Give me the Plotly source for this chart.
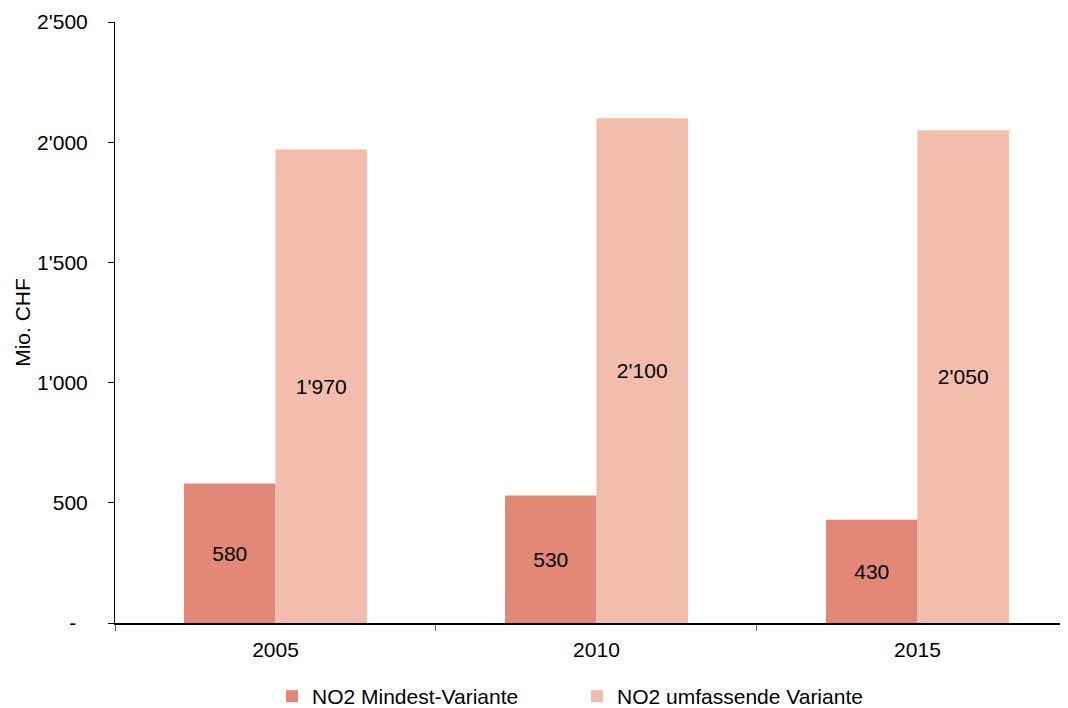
import plotly.graph_objects as go

years = ["2005", "2010", "2015"]
mindest = [580, 530, 430]
umfassend = [1970, 2100, 2050]
mindest_labels = ["580", "530", "430"]
umfassend_labels = ["1'970", "2'100", "2'050"]
y_tickvals = [0, 500, 1000, 1500, 2000, 2500]
y_ticktext = ["-\u00a0\u00a0", "500", "1'000", "1'500", "2'000", "2'500"]

FONT = "Liberation Sans, Arial, sans-serif"

fig = go.Figure()
fig.add_trace(go.Bar(
    x=years, y=mindest, name="NO2 Mindest-Variante",
    marker=dict(color="#E38876", line=dict(width=0)),
    text=mindest_labels, textposition="inside", insidetextanchor="middle",
    textangle=0, textfont=dict(size=21, color="black", family=FONT),
))
fig.add_trace(go.Bar(
    x=years, y=umfassend, name="NO2 umfassende Variante",
    marker=dict(color="#F2BEAB", line=dict(width=0)),
    text=umfassend_labels, textposition="inside", insidetextanchor="middle",
    textangle=0, textfont=dict(size=21, color="black", family=FONT),
))

# page body has an 8px margin -> compensate
fig.update_layout(
    width=1060, height=700,
    margin=dict(l=107, r=0, t=14, b=85, autoexpand=False),
    plot_bgcolor="white", paper_bgcolor="white",
    font=dict(family=FONT, size=21, color="black"),
    barmode="group", bargap=0.43, bargroupgap=0,
    showlegend=True,
    legend=dict(orientation="h", x=(272 - 115) / 953, xanchor="left",
                y=-94 / 601, yanchor="bottom",
                font=dict(size=21), itemwidth=30,
                traceorder="normal", entrywidth=260, entrywidthmode="pixels"),
    uniformtext=dict(mode=False),
)
fig.update_xaxes(
    type="category", range=[-0.5, 2.469], automargin=False,
    showline=True, linecolor="black", linewidth=1.5,
    ticks="outside", tickson="boundaries", ticklen=6, tickcolor="#666666",
    showgrid=False, zeroline=False, ticklabelstandoff=7,
    tickfont=dict(size=21),
)
fig.update_yaxes(
    range=[0, 2500], tickvals=y_tickvals, ticktext=y_ticktext, automargin=False,
    showline=True, linecolor="black", linewidth=1,
    ticks="outside", ticklen=6, tickcolor="black",
    showgrid=False, zeroline=False, ticklabelstandoff=16,
    tickfont=dict(size=21),
    title=dict(text="Mio. CHF", font=dict(size=21), standoff=0),
)

fig.write_html("out.html")
